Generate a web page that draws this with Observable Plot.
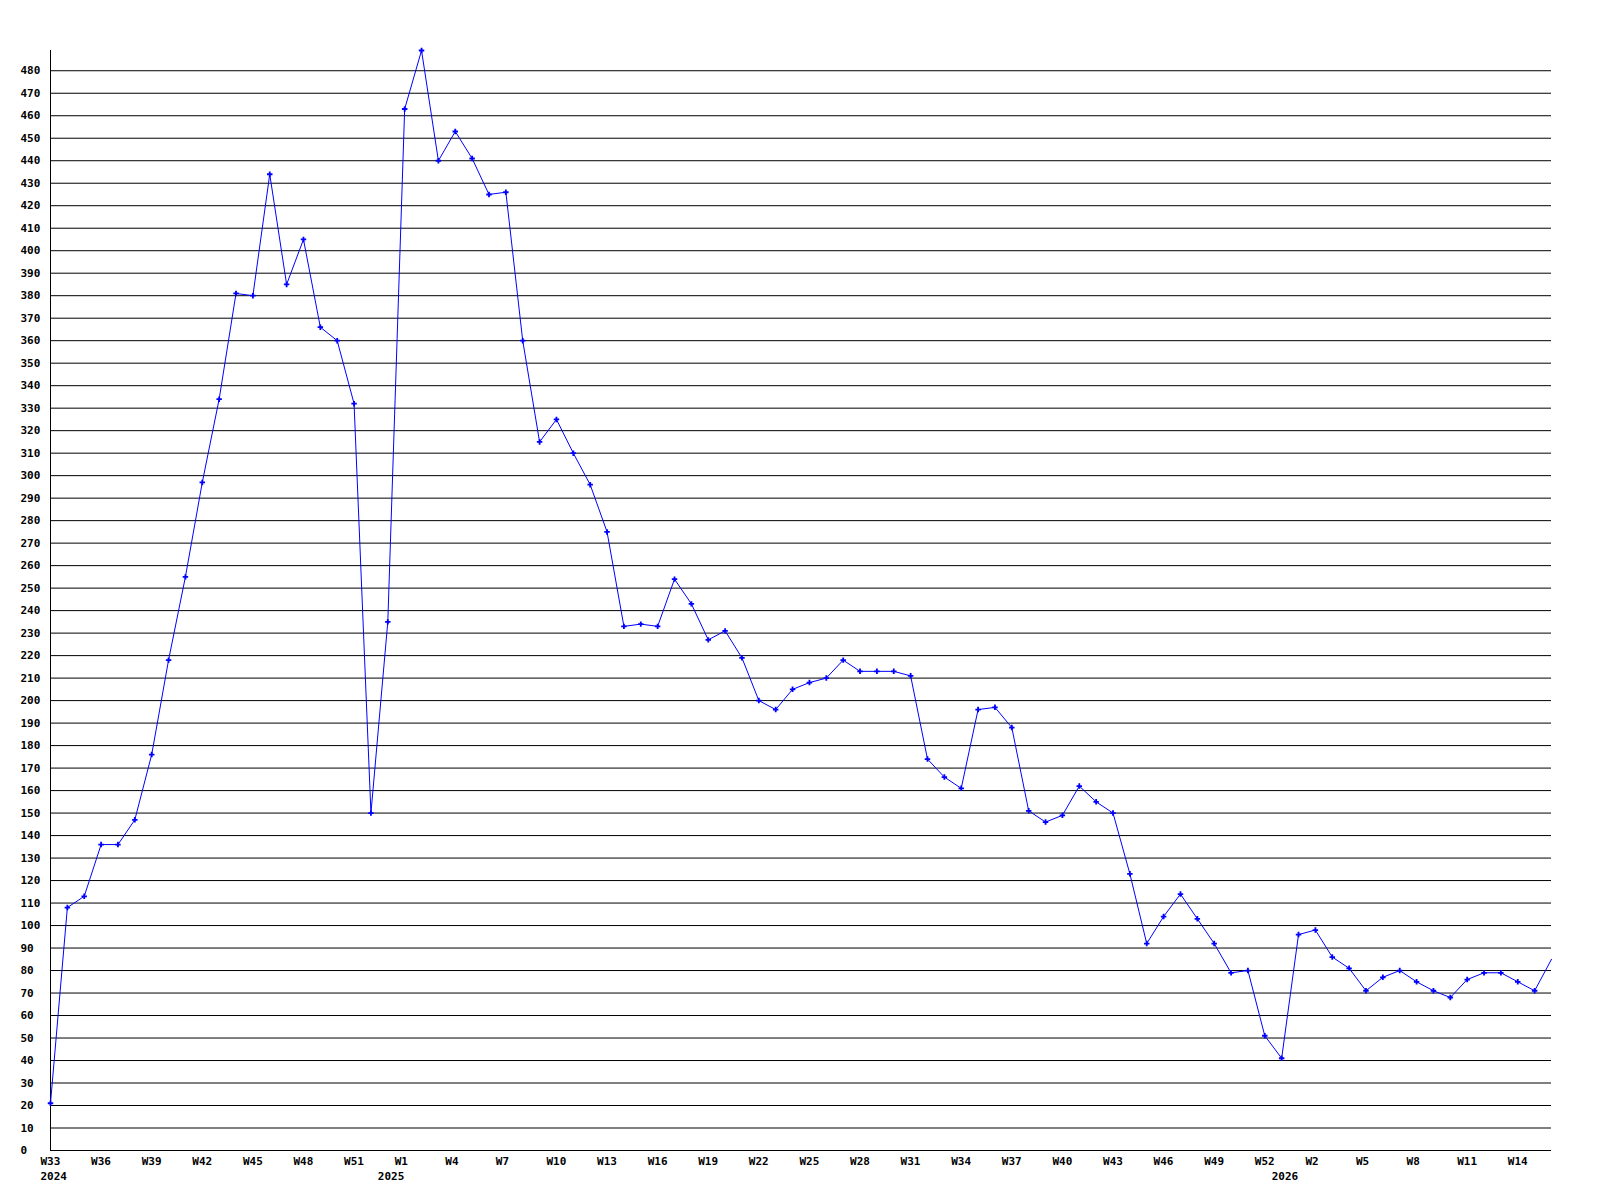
<!DOCTYPE html>
<html>
<head>
<meta charset="utf-8">
<script src="https://cdn.jsdelivr.net/npm/d3@7"></script>
<script src="https://cdn.jsdelivr.net/npm/@observablehq/plot@0.6"></script>
<style>
  html, body { margin: 0; padding: 0; background: #ffffff; }
  #chart svg { display: block; }
</style>
</head>
<body>
<div id="chart"></div>
<script>
// Weekly values, W33 2024 .. W16 2026 (one per week)
const values = [
  21,108,113,136,136,147,176,218,255,297,
  334,381,380,434,385,405,366,360,332,150,
  235,463,489,440,453,441,425,426,360,315,
  325,310,296,275,233,234,233,254,243,227,
  231,219,200,196,205,208,210,218,213,213,
  213,211,174,166,161,196,197,188,151,146,
  149,162,155,150,123,92,104,114,103,92,
  79,80,51,41,96,98,86,81,71,77,
  80,75,71,68,76,79,79,75,71,85
];

// Week tick labels (every third week) and their week index
const weekLabels = [
  "W33","W36","W39","W42","W45","W48","W51",
  "W1","W4","W7","W10","W13","W16","W19","W22","W25","W28","W31","W34","W37","W40","W43","W46","W49","W52",
  "W2","W5","W8","W11","W14"
];
const weekTickIndex = [0,3,6,9,12,15,18,21,24,27,30,33,36,39,42,45,48,51,54,57,60,63,66,69,72,75,78,81,84,87];

// Year labels and their week index
const yearLabels = ["2024","2025","2026"];
const yearTickIndex = [0,20,73];

// Y tick values
const yTicks = d3.range(0, 490, 10);

const data = values.map((v, i) => ({i, v}));
const weeks = weekTickIndex.map((i, k) => ({i, label: weekLabels[k]}));
const years = yearTickIndex.map((i, k) => ({i, label: yearLabels[k]}));

const font = "'DejaVu Sans Mono', 'Liberation Mono', monospace";
const blue = "#0000ff";

const chart = Plot.plot({
  width: 1600,
  height: 1200,
  marginLeft: 50,
  marginRight: 49,
  marginTop: 50,
  marginBottom: 50,
  style: {fontFamily: font, fontSize: "11px", fontWeight: "bold", background: "#ffffff", color: "#000"},
  x: {domain: [0, values.length - 1], axis: null},
  y: {domain: [0, d3.max(values)], axis: null},
  marks: [
    Plot.ruleY(yTicks, {stroke: "#000", strokeWidth: 1}),
    Plot.ruleX([0], {stroke: "#000", strokeWidth: 1}),
    Plot.text(yTicks, {y: d => d, text: d => String(d), frameAnchor: "left", dx: -30, textAnchor: "start", fill: "#000"}),
    Plot.text(weeks, {x: "i", text: "label", frameAnchor: "bottom", dy: 14, dx: -10, textAnchor: "start", fill: "#000"}),
    Plot.text(years, {x: "i", text: "label", frameAnchor: "bottom", dy: 29, dx: -10, textAnchor: "start", fill: "#000"}),
    Plot.line(data, {x: "i", y: "v", stroke: blue, strokeWidth: 1}),
    Plot.dot(data.slice(0, -1), {x: "i", y: "v", symbol: "cross", r: 2.3, fill: blue, stroke: "none"})
  ]
});

document.getElementById("chart").appendChild(chart);
</script>
</body>
</html>
